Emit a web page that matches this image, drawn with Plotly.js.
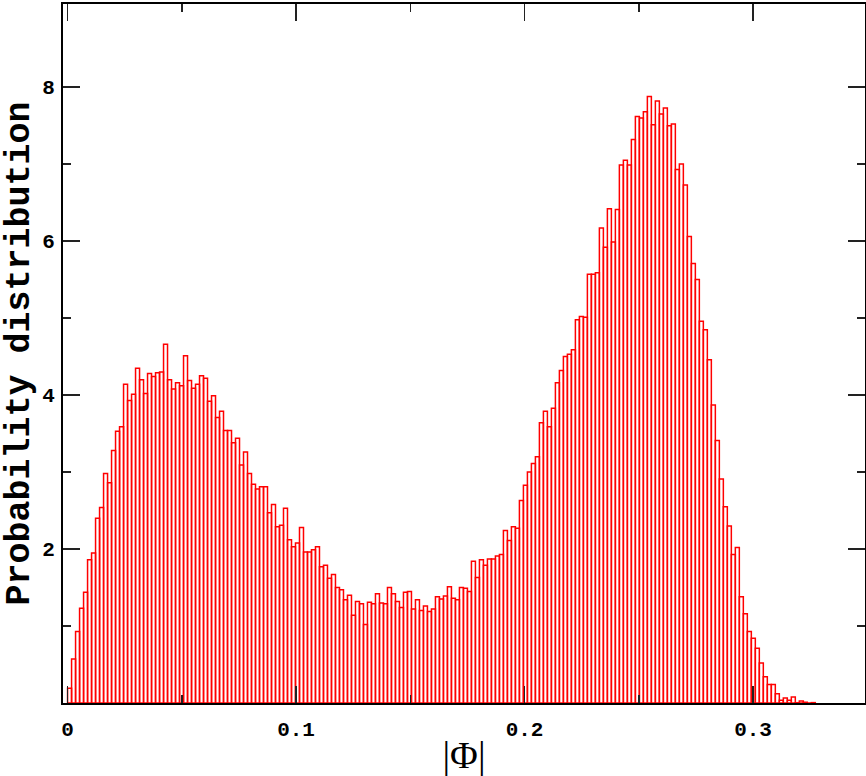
<!DOCTYPE html>
<html>
<head>
<meta charset="utf-8">
<script src="https://cdn.plot.ly/plotly-3.0.1.min.js"></script>
<style>html,body{margin:0;padding:0;background:#fff;}#chart{width:866px;height:776px;}</style>
</head>
<body>
<div id="chart"></div>
<script>
// Histogram bins of |Phi|: first bin starts at 0, constant bin width
const binStart = 0;
const binWidth = 0.00175;

// Probability density in each bin
const density = [
  0.19, 0.57, 0.93, 1.23, 1.44, 1.86, 1.95, 2.40, 2.54, 2.98,
  2.86, 3.28, 3.53, 3.59, 4.14, 3.93, 4.01, 4.35, 4.20, 4.02,
  4.28, 4.24, 4.29, 4.30, 4.66, 4.20, 4.08, 4.16, 4.12, 4.51,
  4.19, 4.09, 4.14, 4.25, 4.22, 3.92, 3.99, 3.71, 3.79, 3.54,
  3.54, 3.38, 3.44, 3.09, 3.26, 2.98, 2.84, 2.78, 2.81, 2.81,
  2.47, 2.58, 2.29, 2.31, 2.53, 2.12, 2.03, 2.08, 2.28, 1.96,
  1.96, 1.99, 2.03, 1.77, 1.79, 1.62, 1.67, 1.50, 1.47, 1.34,
  1.40, 1.14, 1.32, 1.29, 1.02, 1.31, 1.29, 1.42, 1.30, 1.29,
  1.50, 1.42, 1.32, 1.24, 1.44, 1.45, 1.22, 1.34, 1.20, 1.26,
  1.19, 1.22, 1.38, 1.35, 1.39, 1.51, 1.36, 1.34, 1.50, 1.49,
  1.45, 1.84, 1.63, 1.86, 1.79, 1.87, 1.87, 1.91, 1.93, 2.24,
  2.11, 2.29, 2.27, 2.63, 2.83, 3.00, 3.11, 3.20, 3.64, 3.79,
  3.59, 3.83, 4.16, 4.32, 4.50, 4.53, 4.59, 4.98, 5.02, 5.01,
  5.57, 5.57, 5.59, 6.17, 5.92, 6.42, 5.99, 6.41, 6.99, 7.05,
  6.99, 7.32, 7.62, 7.60, 7.68, 7.88, 7.51, 7.82, 7.65, 7.73,
  7.50, 7.52, 6.93, 7.00, 6.73, 6.06, 5.71, 5.50, 4.96, 4.85,
  4.46, 3.87, 3.41, 2.91, 2.55, 2.30, 1.93, 2.02, 1.38, 1.16,
  0.93, 0.84, 0.71, 0.52, 0.34, 0.24, 0.24, 0.12, 0.035, 0.066,
  0.035, 0.077, 0.004, 0.025, 0.01, 0.0, 0.005
];

const xTickVals = [0, 0.1, 0.2, 0.3];
const xTickText = ['0', '0.1', '0.2', '0.3'];
const xMinorVals = [0.05, 0.15, 0.25];
const yTickVals = [2, 4, 6, 8];
const yTickText = ['2', '4', '6', '8'];
const yMinorVals = [1, 3, 5, 7];

const xTitle = '|Φ|';
const yTitle = 'Probability distribution';

const centers = density.map((_, i) => binStart + (i + 0.5) * binWidth);

const trace = {
  type: 'bar',
  x: centers,
  y: density,
  width: binWidth,
  marker: { color: 'rgba(255,255,255,0)', line: { color: '#ff0000', width: 1.5 } },
  hoverinfo: 'x+y'
};

const tickFont = { family: 'Liberation Mono, DejaVu Sans Mono, monospace', size: 21, color: '#000', weight: 'bold' };

const layout = {
  width: 866,
  height: 776,
  margin: { l: 63, r: 1, t: 4, b: 73 },
  paper_bgcolor: '#fff',
  plot_bgcolor: '#fff',
  bargap: 0,
  showlegend: false,
  xaxis: {
    range: [-0.002, 0.349],
    tickmode: 'array',
    tickvals: xTickVals,
    ticktext: xTickText,
    ticks: 'inside',
    ticklen: 17,
    tickwidth: 1.5,
    tickcolor: '#222',
    ticklabelstandoff: 6,
    minor: { tickmode: 'array', tickvals: xMinorVals, ticks: 'inside', ticklen: 8, tickwidth: 1.5, tickcolor: '#222', showgrid: false },
    showline: true,
    linecolor: '#000',
    linewidth: 2,
    mirror: 'ticks',
    showgrid: false,
    zeroline: false,
    tickfont: tickFont,
    title: { text: xTitle, font: { family: 'Liberation Serif, Times New Roman, serif', size: 38, color: '#000' }, standoff: 2 }
  },
  yaxis: {
    range: [0, 9.08],
    tickmode: 'array',
    tickvals: yTickVals,
    ticktext: yTickText,
    ticks: 'inside',
    ticklen: 17,
    tickwidth: 1.5,
    tickcolor: '#222',
    ticklabelstandoff: 2,
    minor: { tickmode: 'array', tickvals: yMinorVals, ticks: 'inside', ticklen: 8, tickwidth: 1.5, tickcolor: '#222', showgrid: false },
    showline: true,
    linecolor: '#000',
    linewidth: 2,
    mirror: 'ticks',
    showgrid: false,
    zeroline: false,
    tickfont: tickFont,
    title: { text: yTitle, font: { family: 'Liberation Mono, DejaVu Sans Mono, monospace', size: 35, color: '#000', weight: 'bold' }, standoff: 10 }
  }
};

Plotly.newPlot('chart', [trace], layout, { staticPlot: true, displayModeBar: false });
</script>
</body>
</html>
